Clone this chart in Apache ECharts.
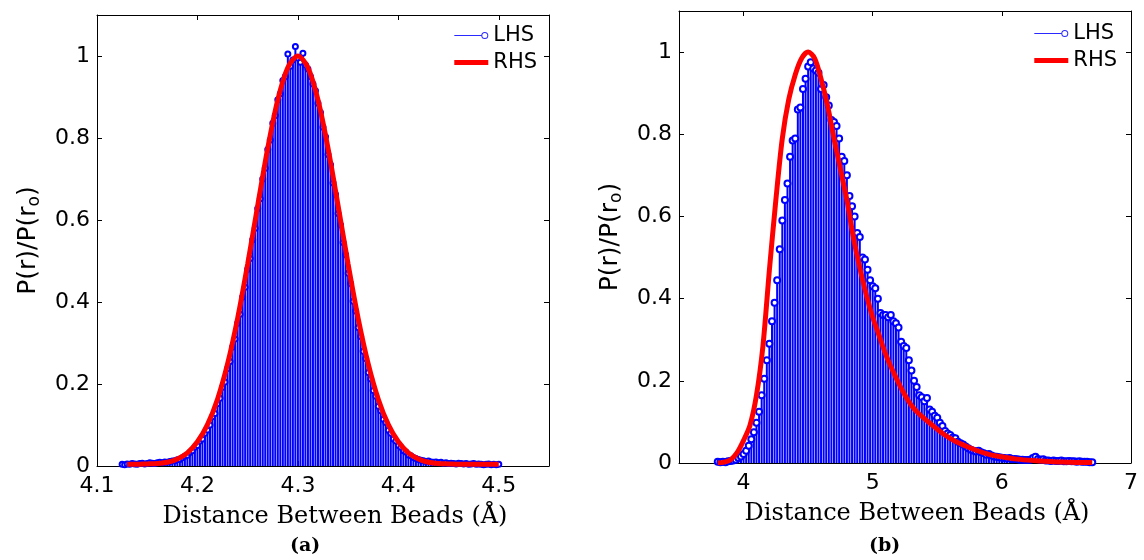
<!DOCTYPE html>
<html><head><meta charset="utf-8">
<script src="https://cdn.jsdelivr.net/npm/echarts@6/dist/echarts.min.js"></script>
<style>html,body{margin:0;padding:0;background:#fff}#c{width:1144px;height:560px}</style>
</head><body><div id="c"></div>
<script>
// ---------- Panel (a) ----------
const lhsA_start = 4.125, lhsA_step = 0.0025;
const lhsA = [
0.004,0.003,0.005,0.004,0.006,0.005,0.004,0.006,0.007,0.005,0.006,0.008,0.007,0.006,0.008,
0.009,0.008,0.010,0.009,0.011,0.012,0.013,0.015,0.016,0.020,
0.024,0.026,0.033,0.037,0.046,0.050,0.061,0.066,0.080,0.088,
0.100,0.120,0.128,0.152,0.165,0.192,0.205,0.238,0.255,0.290,
0.310,0.348,0.370,0.412,0.436,0.480,0.506,0.552,0.580,0.628,
0.652,0.700,0.726,0.772,0.795,0.836,0.855,0.893,0.908,0.940,
0.950,1.005,0.975,0.990,1.023,0.995,0.985,1.007,0.978,0.968,0.950,
0.932,0.915,0.885,0.862,0.826,0.803,0.760,0.735,0.690,0.662,
0.616,0.588,0.545,0.515,0.470,0.445,0.402,0.378,0.338,0.316,
0.280,0.262,0.228,0.212,0.184,0.170,0.146,0.135,0.114,0.106,
0.087,0.080,0.066,0.061,0.050,0.046,0.037,0.034,0.027,0.025,
0.021,0.018,0.016,0.014,0.013,0.011,0.012,0.010,0.009,0.010,
0.008,0.009,0.007,0.008,0.006,0.007,0.006,0.005,0.007,0.006,0.005,0.006,0.004,0.005,0.006,0.004,0.005,0.004,0.003,0.004,0.005,0.003,0.004,0.003,0.004
];
const rhsA_x = [4.13,4.14,4.15,4.16,4.17,4.18,4.19,4.20,4.21,4.22,4.23,4.24,4.25,4.26,4.27,4.28,4.29,4.30,4.31,4.32,4.33,4.34,4.35,4.36,4.37,4.38,4.39,4.40,4.41,4.42,4.43,4.44,4.45,4.46,4.47,4.48,4.49,4.50];
const rhsA_y = [0.004,0.004,0.005,0.006,0.009,0.017,0.032,0.059,0.101,0.163,0.249,0.360,0.492,0.635,0.775,0.893,0.972,1.000,0.972,0.893,0.775,0.635,0.492,0.360,0.249,0.163,0.101,0.059,0.032,0.017,0.009,0.006,0.005,0.004,0.004,0.004,0.004,0.004];
const xTicksA = {min: 4.1, max: 4.55, interval: 0.1};
const xTickValuesA = [4.1, 4.2, 4.3, 4.4, 4.5];

// ---------- Panel (b) ----------
const lhsB_start = 3.80, lhsB_step = 0.02;
const lhsB = [
0.003,0.002,0.003,0.002,0.004,0.005,0.006,0.008,0.012,0.016,
0.022,0.030,0.042,0.058,0.075,0.098,0.125,0.165,0.205,0.250,
0.290,0.345,0.390,0.445,0.520,0.590,0.640,0.680,0.745,0.785,
0.790,0.860,0.865,0.910,0.935,0.965,0.975,0.960,0.955,0.950,
0.910,0.920,0.890,0.870,0.835,0.830,0.820,0.790,0.745,0.735,
0.700,0.650,0.625,0.600,0.560,0.550,0.500,0.495,0.470,0.445,
0.430,0.425,0.400,0.365,0.360,0.360,0.355,0.360,0.345,0.340,
0.330,0.295,0.285,0.280,0.250,0.225,0.200,0.185,0.165,0.160,
0.150,0.158,0.130,0.125,0.115,0.110,0.098,0.090,0.078,0.072,
0.068,0.062,0.060,0.052,0.048,0.045,0.040,0.036,0.032,0.030,
0.028,0.030,0.026,0.024,0.020,0.022,0.018,0.016,0.015,0.014,
0.013,0.012,0.011,0.012,0.009,0.010,0.009,0.008,0.008,0.007,
0.007,0.008,0.012,0.015,0.010,0.008,0.009,0.006,0.006,0.005,
0.006,0.005,0.005,0.006,0.004,0.004,0.005,0.004,0.004,0.003,
0.004,0.003,0.003,0.003,0.002,0.002
];
const rhsB_x = [3.80,3.85,3.90,3.95,4.00,4.05,4.10,4.15,4.20,4.25,4.30,4.35,4.40,4.45,4.50,4.55,4.60,4.65,4.70,4.75,4.80,4.85,4.90,4.95,5.00,5.05,5.10,5.15,5.20,5.25,5.30,5.35,5.40,5.45,5.50,5.55,5.60,5.65,5.70,5.80,5.90,6.00,6.10,6.20,6.30,6.40,6.50,6.60,6.70];
const rhsB_y = [0.000,0.002,0.008,0.025,0.055,0.092,0.165,0.285,0.470,0.640,0.790,0.885,0.945,0.985,1.000,0.985,0.935,0.870,0.790,0.715,0.640,0.550,0.475,0.410,0.355,0.310,0.265,0.228,0.195,0.165,0.140,0.122,0.108,0.095,0.082,0.070,0.060,0.051,0.044,0.031,0.021,0.015,0.010,0.007,0.005,0.003,0.002,0.001,0.001];
const xTicksB = {min: 3.5, max: 7, interval: 0.5};
const xTickValuesB = [4, 5, 6, 7];

const yTicks = {min: 0, max: 1.1, interval: 0.2};
const legendNames = ['LHS', 'RHS'];
const xName = 'Distance Between Beads (Å)';
const panelLabels = ['(a)', '(b)'];

// ---------- build ----------
const binPairs = (start, step, vals) => vals.map((v, i) => [+(start + i * step).toFixed(4), v]);
const zipPairs = (xs, ys) => xs.map((x, i) => [x, ys[i]]);
const BLUE = '#0000ff', RED = '#ff0000';
const tickFont = {fontFamily: 'DejaVu Sans', fontSize: 22, color: '#000'};
const black = {color: '#000', width: 1};

function xBottom(g, t, vals) {
  return {gridIndex: g, type: 'value', min: t.min, max: t.max, interval: t.interval,
    axisLine: {show: true, onZero: false, lineStyle: black},
    axisTick: {show: true, inside: true, length: 5, lineStyle: black, customValues: vals},
    axisLabel: Object.assign({margin: 9, customValues: vals}, tickFont),
    splitLine: {show: false},
    name: xName, nameLocation: 'middle', nameGap: 39,
    nameTextStyle: {fontFamily: 'DejaVu Serif', fontSize: 24, color: '#000', padding: [0, 0, 0, 24]}};
}
function xTop(g, t, vals) {
  return {gridIndex: g, type: 'value', position: 'top', min: t.min, max: t.max, interval: t.interval,
    axisLine: {show: true, onZero: false, lineStyle: black},
    axisTick: {show: true, inside: true, length: 5, lineStyle: black, customValues: vals},
    axisLabel: {show: false}, splitLine: {show: false}};
}
function yLeft(g, gap) {
  return {gridIndex: g, type: 'value', min: yTicks.min, max: yTicks.max, interval: yTicks.interval,
    axisLine: {show: true, onZero: false, lineStyle: black},
    axisTick: {show: true, inside: true, length: 5, lineStyle: black},
    axisLabel: Object.assign({margin: 7, showMaxLabel: false}, tickFont),
    splitLine: {show: false},
    name: '{m|P(r)/P(r}{s|o}{m|)}', nameLocation: 'middle', nameGap: gap, nameRotate: 90,
    nameTextStyle: {rich: {
      m: {fontFamily: 'DejaVu Sans', fontSize: 25, color: '#000', lineHeight: 27},
      s: {fontFamily: 'DejaVu Sans', fontSize: 17, color: '#000', lineHeight: 17, padding: [12, 0, 0, 0]}
    }}};
}
function yRight(g) {
  return {gridIndex: g, type: 'value', position: 'right', min: yTicks.min, max: yTicks.max, interval: yTicks.interval,
    axisLine: {show: true, onZero: false, lineStyle: black},
    axisTick: {show: true, inside: true, length: 5, lineStyle: black},
    axisLabel: {show: false}, splitLine: {show: false}};
}
function panelSeries(axIdx, stems, curve, barW, symSize) {
  return [
    {name: 'LHS', type: 'line', xAxisIndex: axIdx, yAxisIndex: axIdx, data: stems,
      symbol: 'emptyCircle', symbolSize: symSize, showAllSymbol: true,
      lineStyle: {opacity: 0, width: 0}, itemStyle: {color: BLUE, borderWidth: 1}, z: 3},
    {name: 'LHS', type: 'bar', xAxisIndex: axIdx, yAxisIndex: axIdx, data: stems,
      barWidth: barW, itemStyle: {color: BLUE}, z: 2},
    {name: 'RHS', type: 'line', xAxisIndex: axIdx, yAxisIndex: axIdx, data: curve,
      smooth: 0.3, symbol: 'none', lineStyle: {color: RED, width: 5}, itemStyle: {color: RED}, z: 4}
  ];
}
const lhsIcon = 'path://M0,3H27V4H0Z M34,3.5A3.5,3.5 0 1,0 27,3.5A3.5,3.5 0 1,0 34,3.5Z M33,3.5A2.5,2.5 0 1,1 28,3.5A2.5,2.5 0 1,1 33,3.5Z';
function legend(right, top) {
  return {orient: 'vertical', right: right, top: top, padding: 0, itemGap: 6,
    itemWidth: 34, itemHeight: 7, selectedMode: false,
    textStyle: {fontFamily: 'DejaVu Sans', fontSize: 21, color: '#000'},
    data: [
      {name: legendNames[0], icon: lhsIcon, itemStyle: {color: '#2a2aff', borderWidth: 0}},
      {name: legendNames[1], lineStyle: {width: 5, color: RED}, itemStyle: {opacity: 0}}
    ]};
}

const option = {
  animation: false,
  backgroundColor: '#fff',
  title: [
    {text: panelLabels[0], left: 290, top: 537, padding: 0,
      textStyle: {fontFamily: 'DejaVu Serif', fontWeight: 'bold', fontSize: 19, color: '#000'}},
    {text: panelLabels[1], left: 869, top: 537, padding: 0,
      textStyle: {fontFamily: 'DejaVu Serif', fontWeight: 'bold', fontSize: 19, color: '#000'}}
  ],
  legend: [legend(607, 25), legend(27, 23)],
  grid: [
    {left: 97, top: 15, width: 452, height: 451},
    {left: 679, top: 11, width: 452, height: 452}
  ],
  xAxis: [xBottom(0, xTicksA, xTickValuesA), xBottom(1, xTicksB, xTickValuesB),
          xTop(0, xTicksA, xTickValuesA), xTop(1, xTicksB, xTickValuesB)],
  yAxis: [yLeft(0, 55), yLeft(1, 55), yRight(0), yRight(1)],
  series: [].concat(
    panelSeries(0, binPairs(lhsA_start, lhsA_step, lhsA), zipPairs(rhsA_x, rhsA_y), 2, 5),
    panelSeries(1, binPairs(lhsB_start, lhsB_step, lhsB), zipPairs(rhsB_x, rhsB_y), 2, 6)
  )
};
const chart = echarts.init(document.getElementById('c'), null, {renderer: 'canvas'});
chart.setOption(option);
</script></body></html>
